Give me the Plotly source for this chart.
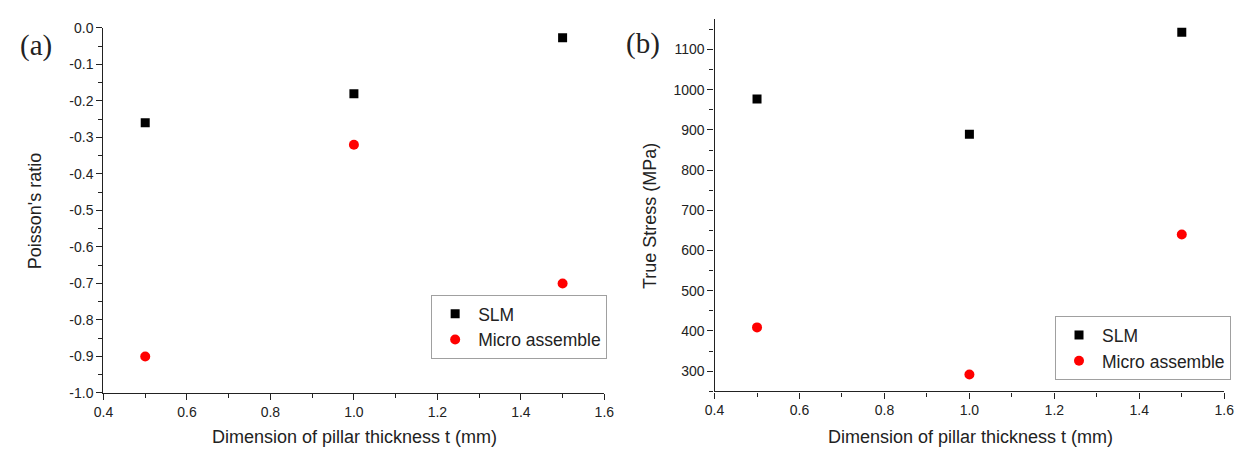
import plotly.graph_objects as go

# Pillar thickness t (mm)
thickness = [0.5, 1.0, 1.5]

# (a) Poisson's ratio
poisson_slm = [-0.26, -0.18, -0.027]
poisson_micro = [-0.90, -0.32, -0.70]

# (b) True stress (MPa)
stress_slm = [977, 889, 1143]
stress_micro = [409, 292, 640]

x_ticks = [0.4, 0.6, 0.8, 1.0, 1.2, 1.4, 1.6]
poisson_ticks = [round(-0.1 * i, 1) for i in range(11)]
stress_ticks = list(range(300, 1101, 100))

W, H = 1250, 455
FONT = "Liberation Sans, Arial, sans-serif"
SERIF = "Liberation Serif, Times New Roman, serif"
INK = "#222222"
BLACK = "#000000"
RED = "#ff0000"


def px(x):
    return x / W


def py(y):
    return (H - y) / H


fig = go.Figure()

marker_sq = dict(symbol="square", size=9, color=BLACK)
marker_ci = dict(symbol="circle", size=10, color=RED)

fig.add_trace(go.Scatter(x=thickness, y=poisson_slm, mode="markers", name="SLM",
                         marker=marker_sq, xaxis="x", yaxis="y", legend="legend"))
fig.add_trace(go.Scatter(x=thickness, y=poisson_micro, mode="markers", name="Micro assemble",
                         marker=marker_ci, xaxis="x", yaxis="y", legend="legend"))
fig.add_trace(go.Scatter(x=thickness, y=stress_slm, mode="markers", name="SLM",
                         marker=marker_sq, xaxis="x2", yaxis="y2", legend="legend2"))
fig.add_trace(go.Scatter(x=thickness, y=stress_micro, mode="markers", name="Micro assemble",
                         marker=marker_ci, xaxis="x2", yaxis="y2", legend="legend2"))

axis_common = dict(
    showgrid=False, zeroline=False, showline=True, linecolor=INK, linewidth=1.4,
    ticks="outside", ticklen=6, tickwidth=1.3, tickcolor=INK,
    tickfont=dict(family=FONT, size=14, color=INK),
    mirror=False,
)


def minor(dtick, tick0):
    return dict(ticks="outside", ticklen=4, tickwidth=1.1, tickcolor=INK,
                dtick=dtick, tick0=tick0)


def legend_box(left, center_y):
    return dict(x=px(left), xanchor="left", y=py(center_y), yanchor="middle",
                bgcolor="white", bordercolor="#a0a0a0", borderwidth=1,
                font=dict(family=FONT, size=17.5, color=INK), itemwidth=36,
                tracegroupgap=0)


def text_note(text, x, y, size, family=FONT, angle=0):
    return dict(text=text, x=px(x), y=py(y), xref="paper", yref="paper",
                xanchor="center", yanchor="middle", showarrow=False, textangle=angle,
                font=dict(family=family, size=size, color=INK))


fig.update_layout(
    width=W, height=H,
    margin=dict(l=0, r=0, t=0, b=0),
    paper_bgcolor="white", plot_bgcolor="white",
    showlegend=True,
    xaxis=dict(domain=[px(95), px(604)], range=[0.4, 1.6], tickvals=x_ticks,
               ticktext=[f"{v:.1f}" for v in x_ticks], anchor="y",
               minor=minor(0.1, 0.4), **axis_common),
    yaxis=dict(domain=[py(399), py(20.7)], range=[-1.0, 0.0],
               tickvals=poisson_ticks,
               ticktext=[f"{abs(v):.1f}" if v == 0 else f"{v:.1f}" for v in poisson_ticks],
               anchor="x", minor=minor(0.05, 0), **axis_common),
    xaxis2=dict(domain=[px(716), px(1234)], range=[0.4, 1.6], tickvals=x_ticks,
                ticktext=[f"{v:.1f}" for v in x_ticks], anchor="y2",
                minor=minor(0.1, 0.4), **axis_common),
    yaxis2=dict(domain=[py(397.3), py(11.7)], range=[250, 1175],
                tickvals=stress_ticks, ticktext=[str(v) for v in stress_ticks], anchor="x2",
                minor=minor(50, 0), **axis_common),
    legend=legend_box(428, 330.5),
    legend2=legend_box(1062, 352.5),
    annotations=[
        text_note("(a)", 26, 39, 29, family=SERIF),
        text_note("(b)", 643, 37, 29, family=SERIF),
        text_note("Poisson's ratio", 25, 210, 18, angle=-90),
        text_note("True Stress (MPa)", 651, 216, 18, angle=-90),
        text_note("Dimension of pillar thickness t (mm)", 350, 445, 18),
        text_note("Dimension of pillar thickness t (mm)", 976, 445, 18),
    ],
)

fig.write_html("out.html")
